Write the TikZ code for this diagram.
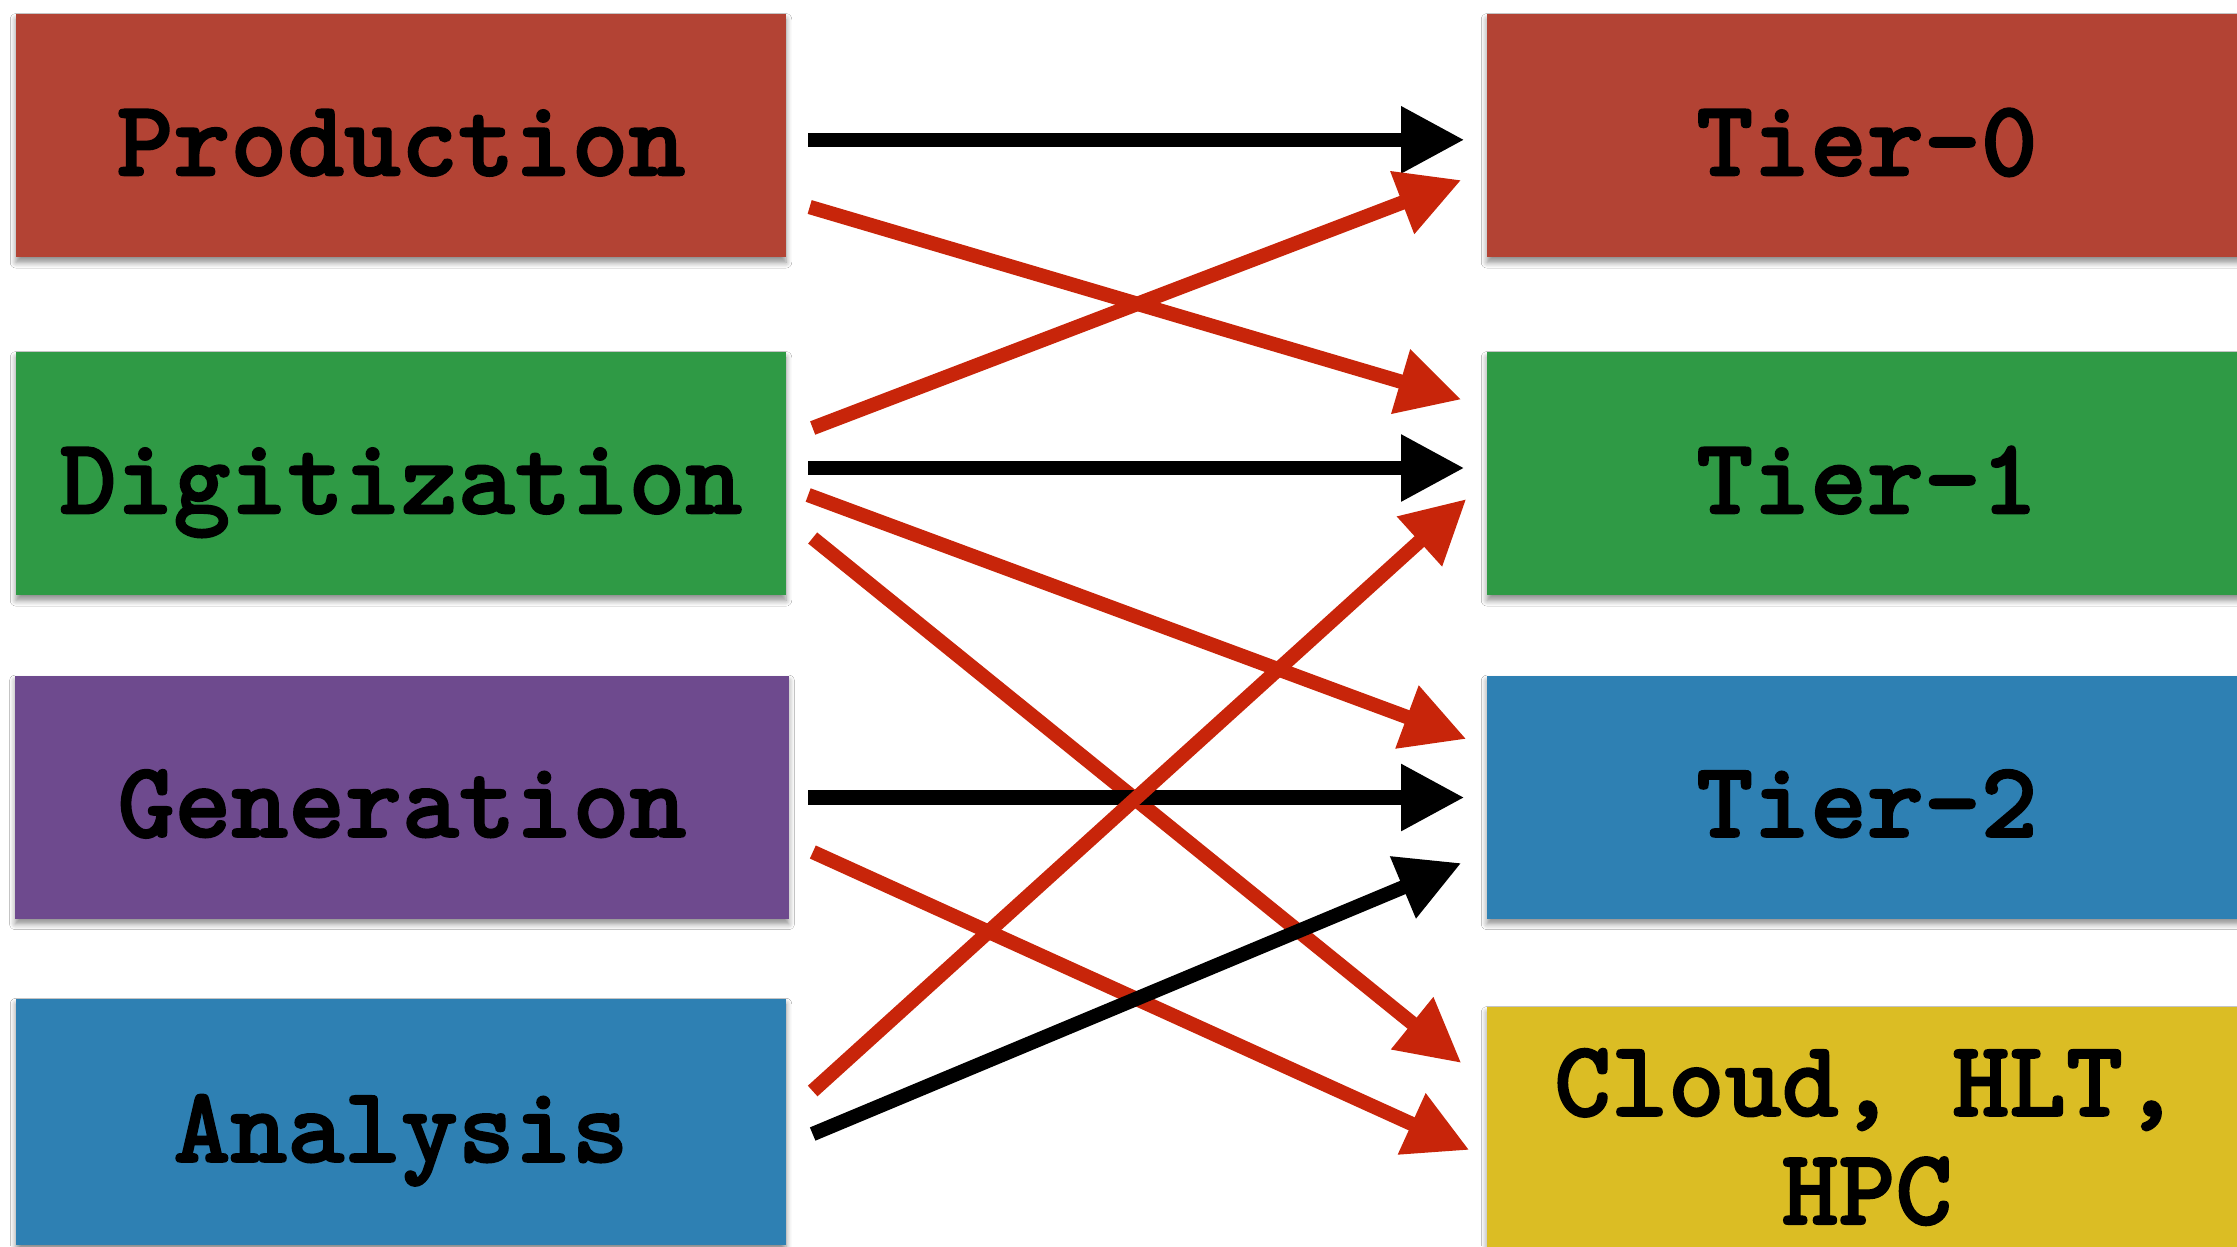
\documentclass[tikz,border=0pt]{standalone}
\usepackage{fontspec}
\newfontfamily\cardfont{lmmonolt10-bold.otf}[FakeBold=1.6]
\usetikzlibrary{arrows.meta,shadows.blur}
\definecolor{cred}{HTML}{B34334}
\definecolor{cgreen}{HTML}{2F9A45}
\definecolor{cpurple}{HTML}{6E4A8E}
\definecolor{cblue}{HTML}{2E80B3}
\definecolor{cyellow}{HTML}{DBBD24}
\definecolor{arrred}{HTML}{C8250A}
\tikzset{
  card/.style={rectangle, inner sep=0pt, align=center,
    minimum height=72.9pt,
    font=\cardfont\fontsize{32.5}{32.5}\selectfont,
    blur shadow={shadow blur steps=6, shadow xshift=0pt, shadow yshift=-1.6pt, shadow opacity=45}},
  oneline/.style={text height=30pt, text depth=6pt},
  leftcard/.style={card, oneline, minimum width=231pt},
  rightcard/.style={card, minimum width=228pt},
  flow/.style={line width=4.3pt, -{Triangle[length=19pt,width=19pt]}},
  blackflow/.style={flow, draw=black},
  redflow/.style={flow, draw=arrred},
}
\begin{document}
\begin{tikzpicture}[x=0.3pt,y=-0.3pt]
\useasboundingbox (0,0) rectangle (2237,1246);
\clip (0,0) rectangle (2237,1246);
\fill[white] (0,0) rectangle (2237,1246);

% stages on the left
\node[leftcard, fill=cred] (prod) at (401,135.5) {Production};
\node[leftcard, fill=cgreen] (dig) at (401,473.5) {Digitization};
\node[leftcard, fill=cpurple, minimum width=232pt] (gen) at (402,797) {Generation};
\node[leftcard, fill=cblue, minimum height=74pt] (ana) at (401,1122) {Analysis};

% resources on the right
\node[rightcard, oneline, fill=cred] (t0) at (1867,135.5) {Tier-0};
\node[rightcard, oneline, fill=cgreen] (t1) at (1867,473.5) {Tier-1};
\node[rightcard, oneline, fill=cblue] (t2) at (1867,797) {Tier-2};
\node[rightcard, fill=cyellow, minimum height=78pt] (cl) at (1867,1137) {Cloud, HLT,\\HPC};

% connectors
\draw[blackflow] ([shift={(21.5,4.3)}]prod.east) -- ([shift={(-22,4.3)}]t0.west);
\draw[redflow] ([shift={(23,71.5)}]prod.east) -- ([shift={(-25,-74)}]t1.west);
\draw[redflow] ([shift={(26,-45.5)}]dig.east) -- ([shift={(-25,44.5)}]t0.west);
\draw[blackflow] ([shift={(21.5,-5.5)}]dig.east) -- ([shift={(-22,-5.5)}]t1.west);
\draw[redflow] ([shift={(21.5,21.5)}]dig.east) -- ([shift={(-20,-58)}]t2.west);
\draw[redflow] ([shift={(26,64.5)}]dig.east) -- ([shift={(-25,-74)}]cl.west);
\draw[blackflow] ([shift={(19,0.5)}]gen.east) -- ([shift={(-22,0.5)}]t2.west);
\draw[redflow] ([shift={(23.5,55)}]gen.east) -- ([shift={(-17,13)}]cl.west);
\draw[redflow] ([shift={(26,-31)}]ana.east) -- ([shift={(-20,25.5)}]t1.west);
\draw[blackflow] ([shift={(26,12)}]ana.east) -- ([shift={(-25,66)}]t2.west);
\end{tikzpicture}
\end{document}
